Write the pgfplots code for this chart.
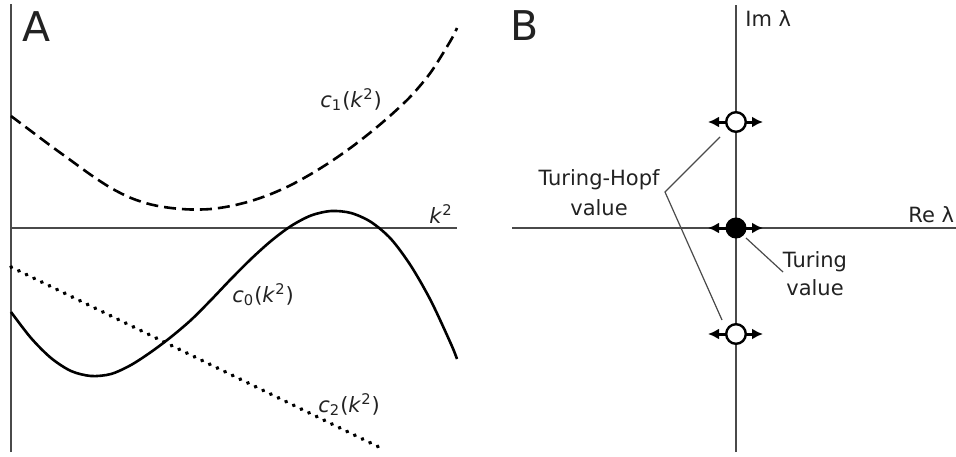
\documentclass[border=0pt]{standalone}
\usepackage{fontspec}
\setmainfont{DejaVu Sans}
\usepackage{pgfplots}
\pgfplotsset{compat=1.18}
\usetikzlibrary{arrows.meta}
\definecolor{axgray}{HTML}{4A4A4A}
\definecolor{txt}{HTML}{222222}
\pgfplotsset{
  panel/.style={
    x=0.5pt, y=0.5pt, anchor=origin, enlargelimits=false,
    axis lines=middle, xtick=\empty, ytick=\empty, clip=false,
    every inner x axis line/.append style={-, line width=1pt, axgray},
    every inner y axis line/.append style={-, line width=1pt, axgray},
  },
}
\newcommand{\lbl}{\fontsize{10.5}{12.5}\selectfont}
\begin{document}
\begin{tikzpicture}
\path[use as bounding box] (0,0) rectangle (478pt,228pt);
% ---------------- Panel A ----------------
\begin{axis}[panel, at={(5.5pt,114pt)}, xmin=0, xmax=446, ymin=-224, ymax=224]
\addplot[black, line width=1.3pt, dash pattern=on 6pt off 3pt, smooth] coordinates {
(0,112) (20,97) (40,82) (60,67.5) (80,53) (100,40) (120,30) (140,23.5) (160,20)
(180,18.5) (200,19) (220,22) (240,27) (260,34) (280,43) (300,54) (320,66.5)
(340,80.5) (360,96) (380,113) (400,132) (420,156) (440,188) (446,200)};
\addplot[black, line width=1.3pt, smooth] coordinates {
(0,-84) (20,-110) (40,-130) (60,-143) (80,-148) (100,-146) (120,-137) (140,-124)
(160,-109) (180,-92) (200,-72) (220,-51) (240,-31) (260,-13) (280,2) (300,12.5)
(320,17) (340,15) (360,6) (380,-11) (400,-38) (420,-73) (440,-116) (446,-131)};
\addplot[black, line width=1.9pt, line cap=round, dash pattern=on 0.3pt off 3.95pt] coordinates {
(0,-39) (374,-222)};
\node[anchor=base west, inner sep=0, text=txt, font=\fontsize{20.5}{24}\selectfont] at (axis cs:11,186) {A};
\node[anchor=base west, inner sep=0, text=txt, font=\lbl] at (axis cs:309,121) {\textit{c}\textsubscript{1}(\textit{k}\textsuperscript{2})};
\node[anchor=base west, inner sep=0, text=txt, font=\lbl] at (axis cs:221,-74) {\textit{c}\textsubscript{0}(\textit{k}\textsuperscript{2})};
\node[anchor=base west, inner sep=0, text=txt, font=\lbl] at (axis cs:307,-184) {\textit{c}\textsubscript{2}(\textit{k}\textsuperscript{2})};
\node[anchor=base west, inner sep=0, text=txt, font=\lbl] at (axis cs:418,5) {\textit{k}\textsuperscript{2}};
\end{axis}
% ---------------- Panel B ----------------
\begin{axis}[panel, at={(368pt,114pt)}, xmin=-224, xmax=220, ymin=-224, ymax=223]
\addplot[axgray, line width=0.6pt] coordinates {(-16,91) (-71,36) (-14,-92)};
\addplot[axgray, line width=0.6pt] coordinates {(10,-10) (47,-44)};
\foreach \yy in {106,0,-106} {
  \addplot[black, line width=1.5pt, -{Latex[length=5.5pt,width=5.5pt]}] coordinates {(-8,\yy) (-28,\yy)};
  \addplot[black, line width=1.5pt, -{Latex[length=5.5pt,width=5.5pt]}] coordinates {(8,\yy) (27,\yy)};
}
\addplot[only marks, mark=*, mark size=4.9pt, mark options={fill=white, draw=black, line width=1.2pt}] coordinates {(0,106) (0,-106)};
\addplot[only marks, mark=*, mark size=5pt, mark options={fill=black, draw=black, line width=0.5pt}] coordinates {(0,0)};
\node[anchor=base west, inner sep=0, text=txt, font=\fontsize{20.5}{24}\selectfont] at (axis cs:-226,187) {B};
\node[anchor=base west, inner sep=0, text=txt, font=\lbl] at (axis cs:9,201) {Im λ};
\node[anchor=base west, inner sep=0, text=txt, font=\lbl] at (axis cs:172,6) {Re λ};
\node[anchor=base, inner sep=0, text=txt, font=\lbl] at (axis cs:-137,43) {Turing-Hopf};
\node[anchor=base, inner sep=0, text=txt, font=\lbl] at (axis cs:-137,13) {value};
\node[anchor=base, inner sep=0, text=txt, font=\lbl] at (axis cs:79,-39) {Turing};
\node[anchor=base, inner sep=0, text=txt, font=\lbl] at (axis cs:79,-67) {value};
\end{axis}
\end{tikzpicture}
\end{document}
